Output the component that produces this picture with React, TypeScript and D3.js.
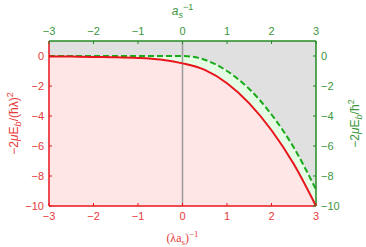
import React from "react";
import * as d3 from "d3";

// bound state energies
const xs = [-3, -2.5, -2, -1.5, -1, -0.5, 0, 0.5, 1, 1.5, 2, 2.5, 3];
const redVals = [-0.03, -0.04, -0.06, -0.08, -0.13, -0.24, -0.49, -0.93, -1.82, -3.16, -4.95, -7.2, -10];
const greenVals = [0, 0, 0, 0, 0, 0, 0, -0.25, -1, -2.2, -3.9, -6.1, -8.9];
const xTicks = [-3, -2, -1, 0, 1, 2, 3];
const yTicks = [0, -2, -4, -6, -8, -10];

const RED = "#e8141c";
const RED_TXT = "#e63a3a";
const GREEN = "#238b23";
const GREEN_TXT = "#3c963c";

const W = 366;
const H = 247;
const m = { left: 49, right: 50, top: 41, bottom: 41 };

const fmt = (v: number) => (v < 0 ? "\u2212" + Math.abs(v) : String(v));

export default function App() {
  const x = d3.scaleLinear().domain([-3, 3]).range([m.left, W - m.right]);
  const y = d3.scaleLinear().domain([-10, 1]).range([H - m.bottom, m.top]);
  const red = xs.map((v, i) => ({ x: v, y: redVals[i] }));
  const green = xs.map((v, i) => ({ x: v, y: greenVals[i] }));

  const line = d3
    .line<{ x: number; y: number }>()
    .x((d) => x(d.x))
    .y((d) => y(d.y))
    .curve(d3.curveMonotoneX);
  const area = (top: (i: number) => number, bot: (i: number) => number) =>
    d3
      .area<number>()
      .x((d) => x(d))
      .y0((d, i) => y(bot(i)))
      .y1((d, i) => y(top(i)))
      .curve(d3.curveMonotoneX)(xs) || "";

  const [x0, x1] = x.range();
  const [yb, yt] = y.range();
  const sans = "'Liberation Sans', Arial, sans-serif";

  return (
    <svg width={W} height={H} style={{ position: "absolute", left: 0, top: 0 }}>
      <rect x={0} y={0} width={W} height={H} fill="#fff" />
      {/* fills */}
      <path d={area(() => 1, (i) => greenVals[i])} fill="#e0e0e0" />
      <path d={area((i) => greenVals[i], (i) => redVals[i])} fill="#e4fde4" />
      <path d={area((i) => redVals[i], () => -10)} fill="#ffe6e6" />
      {/* x=0 marker */}
      <line x1={x(0)} x2={x(0)} y1={yt} y2={yb} stroke="#9a9a9a" strokeWidth={1.5} />
      {/* curves */}
      <path d={line(green) || ""} fill="none" stroke="#1aaa1a" strokeWidth={2} strokeDasharray="6,3" />
      <path d={line(red) || ""} fill="none" stroke={RED} strokeWidth={2} />
      {/* frame */}
      <line x1={x0} x2={x1} y1={yt} y2={yt} stroke={GREEN} strokeWidth={1.5} />
      <line x1={x1} x2={x1} y1={yt} y2={yb} stroke={GREEN} strokeWidth={1.5} />
      <line x1={x0} x2={x1} y1={yb} y2={yb} stroke={RED} strokeWidth={1.5} />
      <line x1={x0} x2={x0} y1={yt} y2={yb} stroke={RED} strokeWidth={1.5} />
      {/* x ticks */}
      {xTicks.map((t) => (
        <g key={"x" + t} fontFamily={sans} fontSize={11} textAnchor="middle">
          <line x1={x(t)} x2={x(t)} y1={yb} y2={yb - 3} stroke={RED} />
          <line x1={x(t)} x2={x(t)} y1={yt} y2={yt + 3} stroke={GREEN} />
          <text x={x(t)} y={yb + 14} fill={RED_TXT}>{fmt(t)}</text>
          <text x={x(t)} y={yt - 6} fill={GREEN_TXT}>{fmt(t)}</text>
        </g>
      ))}
      {/* y ticks */}
      {yTicks.map((t) => (
        <g key={"y" + t} fontFamily={sans} fontSize={11}>
          <line x1={x0} x2={x0 + 3} y1={y(t)} y2={y(t)} stroke={RED} />
          <line x1={x1} x2={x1 - 3} y1={y(t)} y2={y(t)} stroke={GREEN} />
          <text x={x0 - 5} y={y(t) + 4} fill={RED_TXT} textAnchor="end">{fmt(t)}</text>
          <text x={x1 + 5} y={y(t) + 4} fill={GREEN_TXT}>{fmt(t)}</text>
        </g>
      ))}
      {/* axis titles */}
      <text x={x(0)} y={H - 5} textAnchor="middle" fill={RED_TXT} fontFamily="'Liberation Serif', serif" fontSize={12}>
        (λa<tspan fontSize={9} dy={3}>s</tspan>
        <tspan dy={-3}>)</tspan>
        <tspan fontSize={9} dy={-5}>−1</tspan>
      </text>
      <text x={x(0)} y={15} textAnchor="middle" fill={GREEN_TXT} fontFamily={sans} fontSize={12}>
        <tspan fontStyle="italic">a</tspan>
        <tspan fontSize={9} fontStyle="italic" dy={3}>s</tspan>
        <tspan fontSize={9} dy={-8}>−1</tspan>
      </text>
      <text
        transform={`translate(18,${(yt + yb) / 2}) rotate(-90)`}
        textAnchor="middle"
        fill={RED_TXT}
        fontFamily={sans}
        fontSize={12}
      >
        −2<tspan fontStyle="italic">μ</tspan>E<tspan fontSize={9} fontStyle="italic" dy={3}>b</tspan>
        <tspan dy={-3}>/(ħλ)</tspan>
        <tspan fontSize={9} dy={-5}>2</tspan>
      </text>
      <text
        transform={`translate(359,${(yt + yb) / 2}) rotate(-90)`}
        textAnchor="middle"
        fill={GREEN_TXT}
        fontFamily={sans}
        fontSize={12}
      >
        −2<tspan fontStyle="italic">μ</tspan>E<tspan fontSize={9} fontStyle="italic" dy={3}>b</tspan>
        <tspan dy={-3}>/ħ</tspan>
        <tspan fontSize={9} dy={-5}>2</tspan>
      </text>
    </svg>
  );
}
